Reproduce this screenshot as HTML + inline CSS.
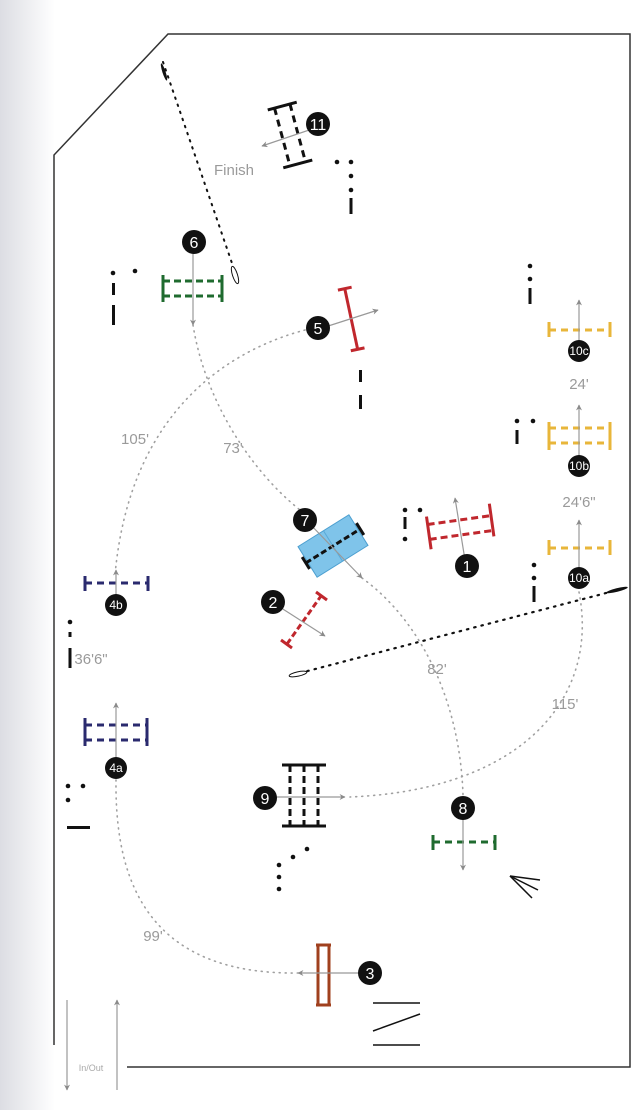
<!DOCTYPE html>
<html><head><meta charset="utf-8"><style>
html,body{margin:0;padding:0;background:#fff}
svg{display:block}
text{font-family:"Liberation Sans",sans-serif}
</style></head><body>
<svg width="640" height="1110" viewBox="0 0 640 1110" xmlns="http://www.w3.org/2000/svg">
<defs>
<linearGradient id="lg" x1="0" x2="1"><stop offset="0" stop-color="#dcdde3"/><stop offset="1" stop-color="#fff"/></linearGradient>
<marker id="ah" viewBox="0 0 10 10" refX="9" refY="5" markerWidth="5" markerHeight="5" orient="auto"><path d="M0,0 L10,5 L0,10 L3,5z" fill="#8a8a8a"/></marker>
</defs>
<rect x="0" y="0" width="640" height="1110" fill="#fff"/>
<rect x="0" y="0" width="55" height="1110" fill="url(#lg)"/>
<polyline points="54,1045 54,155 168,34 630,34 630,1067 127,1067" fill="none" stroke="#333" stroke-width="1.5"/>
<line x1="163" y1="62" x2="235" y2="272" stroke="#111" stroke-width="2" stroke-dasharray="1.5 6" stroke-linecap="round"/>
<ellipse cx="164" cy="72" rx="1.6" ry="9" transform="rotate(-18 164 72)" fill="#111"/>
<ellipse cx="235" cy="275" rx="2.5" ry="9" transform="rotate(-18 235 275)" fill="#fff" stroke="#111"/>
<line x1="300" y1="673" x2="610" y2="592" stroke="#111" stroke-width="2.2" stroke-dasharray="1.5 6" stroke-linecap="round"/>
<ellipse cx="298" cy="674" rx="9" ry="2.2" transform="rotate(-12 298 674)" fill="#fff" stroke="#111"/>
<ellipse cx="617" cy="590" rx="11" ry="1.8" transform="rotate(-14 617 590)" fill="#111"/>
<g fill="none" stroke="#a0a0a0" stroke-width="1.6" stroke-dasharray="1 5" stroke-linecap="round">
<path d="M305,330 C230,350 130,410 115,575"/>
<path d="M193,325 C205,400 250,470 300,510"/>
<path d="M362,578 C420,620 460,700 463,795"/>
<path d="M579,592 C600,700 520,790 350,797"/>
<path d="M116,780 C115,870 140,975 298,973"/>
</g>
<g font-size="15" fill="#9a9a9a" text-anchor="middle">
<text x="234" y="175">Finish</text>
<text x="135" y="444">105'</text>
<text x="233" y="453">73'</text>
<text x="437" y="674">82'</text>
<text x="565" y="709">115'</text>
<text x="153" y="941">99'</text>
<text x="579" y="389">24'</text>
<text x="579" y="507">24'6"</text>
<text x="91" y="664">36'6"</text>
</g>
<g fill="#111">
<circle cx="337" cy="162" r="2.3"/><circle cx="351" cy="162" r="2.3"/><circle cx="351" cy="176" r="2.3"/><circle cx="351" cy="190" r="2.3"/>
<rect x="349.5" y="198" width="3" height="16"/>
<circle cx="113" cy="273" r="2.3"/><circle cx="135" cy="271" r="2.3"/>
<rect x="112" y="283" width="3" height="12"/><rect x="112" y="305" width="3" height="20"/>
<rect x="359" y="370" width="3" height="12"/><rect x="359" y="395" width="3" height="14"/>
<circle cx="530" cy="266" r="2.3"/><circle cx="530" cy="279" r="2.3"/><rect x="528.5" y="288" width="3" height="16"/>
<circle cx="517" cy="421" r="2.3"/><circle cx="533" cy="421" r="2.3"/><rect x="515.5" y="430" width="3" height="14"/>
<circle cx="405" cy="510" r="2.3"/><circle cx="420" cy="510" r="2.3"/><rect x="403.5" y="517" width="3" height="12"/><circle cx="405" cy="539" r="2.3"/>
<circle cx="534" cy="565" r="2.3"/><circle cx="534" cy="578" r="2.3"/><rect x="532.5" y="586" width="3" height="16"/>
<circle cx="70" cy="622" r="2.3"/><rect x="68.5" y="632" width="3" height="5"/><rect x="68.5" y="648" width="3" height="20"/>
<circle cx="68" cy="786" r="2.3"/><circle cx="83" cy="786" r="2.3"/><circle cx="68" cy="800" r="2.3"/>
<rect x="67" y="826" width="23" height="3"/>
<circle cx="307" cy="849" r="2.3"/><circle cx="293" cy="857" r="2.3"/><circle cx="279" cy="865" r="2.3"/><circle cx="279" cy="877" r="2.3"/><circle cx="279" cy="889" r="2.3"/>
</g>
<g stroke="#111" stroke-width="1.5">
<line x1="510" y1="876" x2="540" y2="880"/><line x1="510" y1="876" x2="538" y2="890"/><line x1="510" y1="876" x2="532" y2="898"/>
<line x1="373" y1="1003" x2="420" y2="1003"/><line x1="373" y1="1031" x2="420" y2="1014"/><line x1="373" y1="1045" x2="420" y2="1045"/>
</g>
<g transform="rotate(-15 290 135)" stroke="#111" stroke-width="3" fill="none">
<line x1="275" y1="105" x2="305" y2="105"/><line x1="275" y1="165" x2="305" y2="165"/>
<line x1="282" y1="105" x2="282" y2="165" stroke-dasharray="7 5"/><line x1="298" y1="105" x2="298" y2="165" stroke-dasharray="7 5"/>
</g>
<line x1="318" y1="127" x2="262" y2="146" stroke="#999" stroke-width="1.2" marker-end="url(#ah)"/>
<g stroke="#1f6b2f" stroke-width="3" fill="none">
<line x1="163" y1="275" x2="163" y2="302"/><line x1="222" y1="275" x2="222" y2="302"/>
<line x1="163" y1="281" x2="222" y2="281" stroke-dasharray="7 4"/><line x1="163" y1="296" x2="222" y2="296" stroke-dasharray="7 4"/>
</g>
<line x1="193" y1="245" x2="193" y2="325" stroke="#999" stroke-width="1.2" marker-end="url(#ah)"/>
<g transform="rotate(-12 351 318)" stroke="#c0272d" stroke-width="3">
<line x1="351" y1="288" x2="351" y2="350"/><line x1="344" y1="288" x2="358" y2="288"/><line x1="344" y1="350" x2="358" y2="350"/>
</g>
<line x1="322" y1="328" x2="378" y2="310" stroke="#999" stroke-width="1.2" marker-end="url(#ah)"/>
<g stroke="#e8b63a" stroke-width="3" fill="none">
<line x1="549" y1="322" x2="549" y2="337"/><line x1="610" y1="322" x2="610" y2="337"/><line x1="549" y1="330" x2="610" y2="330" stroke-dasharray="7 5"/>
<line x1="549" y1="422" x2="549" y2="450"/><line x1="610" y1="422" x2="610" y2="450"/><line x1="549" y1="428" x2="610" y2="428" stroke-dasharray="7 5"/><line x1="549" y1="443" x2="610" y2="443" stroke-dasharray="7 5"/>
<line x1="549" y1="540" x2="549" y2="555"/><line x1="610" y1="540" x2="610" y2="555"/><line x1="549" y1="548" x2="610" y2="548" stroke-dasharray="7 5"/>
</g>
<g stroke="#999" stroke-width="1.2">
<line x1="579" y1="345" x2="579" y2="300" marker-end="url(#ah)"/>
<line x1="579" y1="460" x2="579" y2="405" marker-end="url(#ah)"/>
<line x1="579" y1="572" x2="579" y2="520" marker-end="url(#ah)"/>
</g>
<g transform="rotate(-8 460 525)" stroke="#c0272d" stroke-width="3" fill="none">
<line x1="428" y1="512" x2="428" y2="545"/><line x1="492" y1="508" x2="492" y2="541"/>
<line x1="428" y1="520" x2="492" y2="520" stroke-dasharray="7 4"/><line x1="428" y1="535" x2="492" y2="535" stroke-dasharray="7 4"/>
</g>
<line x1="465" y1="560" x2="455" y2="498" stroke="#999" stroke-width="1.2" marker-end="url(#ah)"/>
<g transform="rotate(-32 333 546)">
<rect x="303" y="528" width="60" height="36" fill="#7fc4ea" stroke="#4c9fd0"/>
<line x1="333" y1="528" x2="333" y2="564" stroke="#5aa9d8"/>
<line x1="301" y1="546" x2="365" y2="546" stroke="#111" stroke-width="3" stroke-dasharray="6 3"/>
<line x1="301" y1="539" x2="301" y2="553" stroke="#111" stroke-width="3"/><line x1="365" y1="539" x2="365" y2="553" stroke="#111" stroke-width="3"/>
</g>
<line x1="308" y1="522" x2="362" y2="578" stroke="#999" stroke-width="1.2" marker-end="url(#ah)"/>
<g stroke="#c0272d" stroke-width="3">
<line x1="287" y1="644" x2="321" y2="596" stroke-dasharray="6 3"/>
<line x1="281" y1="640" x2="292" y2="648"/><line x1="316" y1="592" x2="327" y2="600"/>
</g>
<line x1="275" y1="604" x2="325" y2="636" stroke="#999" stroke-width="1.2" marker-end="url(#ah)"/>
<g stroke="#2a2a6e" stroke-width="3" fill="none">
<line x1="85" y1="576" x2="85" y2="591"/><line x1="148" y1="576" x2="148" y2="591"/><line x1="85" y1="583" x2="148" y2="583" stroke-dasharray="7 5"/>
<line x1="85" y1="718" x2="85" y2="746"/><line x1="147" y1="718" x2="147" y2="746"/><line x1="85" y1="725" x2="147" y2="725" stroke-dasharray="7 5"/><line x1="85" y1="740" x2="147" y2="740" stroke-dasharray="7 5"/>
</g>
<g stroke="#999" stroke-width="1.2">
<line x1="116" y1="598" x2="116" y2="570" marker-end="url(#ah)"/>
<line x1="116" y1="760" x2="116" y2="703" marker-end="url(#ah)"/>
</g>
<g stroke="#111" stroke-width="3">
<line x1="282" y1="765" x2="326" y2="765"/><line x1="282" y1="826" x2="326" y2="826"/>
<line x1="290" y1="765" x2="290" y2="826" stroke-dasharray="7 4"/><line x1="304" y1="765" x2="304" y2="826" stroke-dasharray="7 4"/><line x1="318" y1="765" x2="318" y2="826" stroke-dasharray="7 4"/>
</g>
<line x1="270" y1="797" x2="345" y2="797" stroke="#999" stroke-width="1.2" marker-end="url(#ah)"/>
<g stroke="#1f6b2f" stroke-width="3">
<line x1="433" y1="835" x2="433" y2="850"/><line x1="495" y1="835" x2="495" y2="850"/><line x1="433" y1="842" x2="495" y2="842" stroke-dasharray="7 5"/>
</g>
<line x1="463" y1="815" x2="463" y2="870" stroke="#999" stroke-width="1.2" marker-end="url(#ah)"/>
<g stroke="#a0401e" stroke-width="3">
<line x1="316" y1="945" x2="331" y2="945"/><line x1="316" y1="1005" x2="331" y2="1005"/>
<line x1="318" y1="945" x2="318" y2="1005"/><line x1="329" y1="945" x2="329" y2="1005"/>
</g>
<line x1="365" y1="973" x2="298" y2="973" stroke="#999" stroke-width="1.2" marker-end="url(#ah)"/>
<line x1="67" y1="1000" x2="67" y2="1090" stroke="#999" stroke-width="1.2" marker-end="url(#ah)"/>
<line x1="117" y1="1090" x2="117" y2="1000" stroke="#999" stroke-width="1.2" marker-end="url(#ah)"/>
<text x="91" y="1071" font-size="9" fill="#aaa" text-anchor="middle">In/Out</text>
<g fill="#111">
<circle cx="318" cy="124" r="12"/><circle cx="194" cy="242" r="12"/><circle cx="318" cy="328" r="12"/>
<circle cx="579" cy="351" r="11"/><circle cx="579" cy="466" r="11"/><circle cx="579" cy="578" r="11"/>
<circle cx="467" cy="566" r="12"/><circle cx="305" cy="520" r="12"/><circle cx="273" cy="602" r="12"/>
<circle cx="116" cy="605" r="11"/><circle cx="116" cy="768" r="11"/><circle cx="265" cy="798" r="12"/>
<circle cx="463" cy="808" r="12"/><circle cx="370" cy="973" r="12"/>
</g>
<g fill="#fff" font-size="16" text-anchor="middle">
<text x="318" y="130">11</text><text x="194" y="248">6</text><text x="318" y="334">5</text>
<text x="467" y="572">1</text><text x="305" y="526">7</text><text x="273" y="608">2</text>
<text x="265" y="804">9</text><text x="463" y="814">8</text><text x="370" y="979">3</text>
</g>
<g fill="#fff" font-size="12" text-anchor="middle">
<text x="579" y="355">10c</text><text x="579" y="470">10b</text><text x="579" y="582">10a</text>
<text x="116" y="609">4b</text><text x="116" y="772">4a</text>
</g>
</svg>
</body></html>
